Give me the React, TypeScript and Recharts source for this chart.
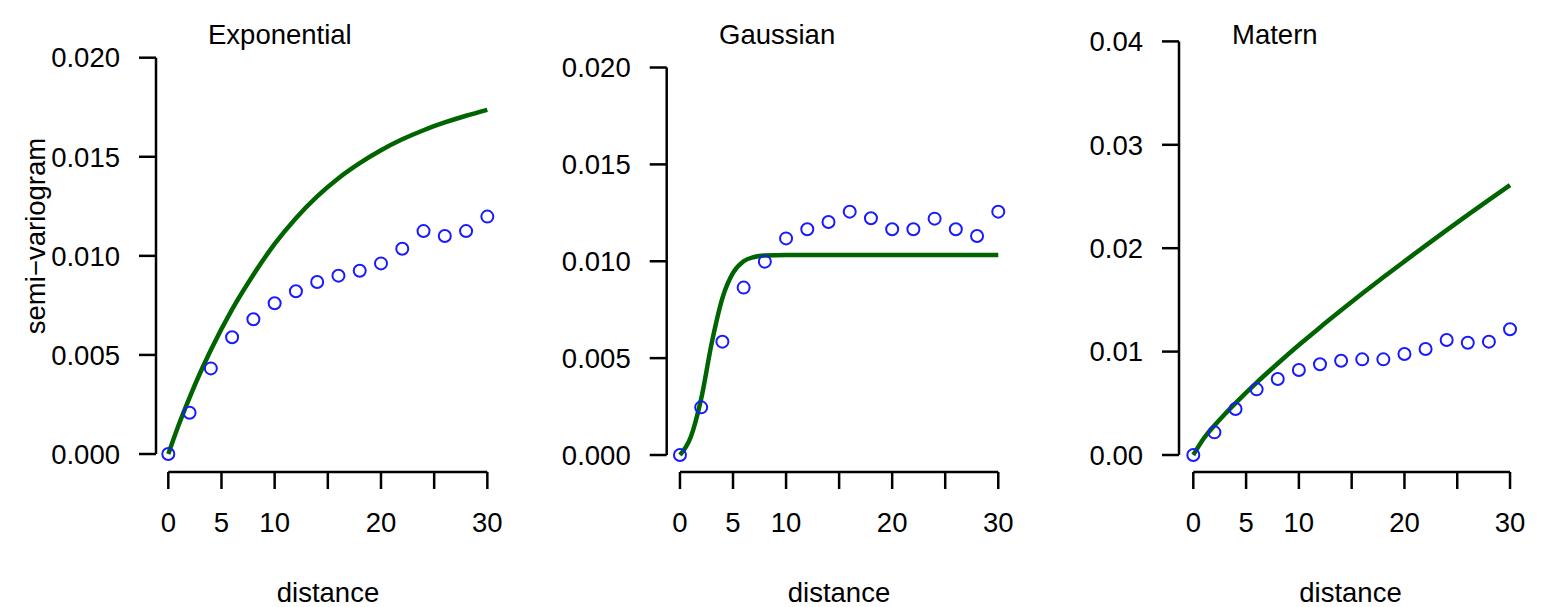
import React from "react";
import { ComposedChart, Line, Scatter, XAxis, YAxis, ReferenceLine } from "recharts";

// empirical semi-variogram, lags 0..30 by 2
const distances = [0, 2, 4, 6, 8, 10, 12, 14, 16, 18, 20, 22, 24, 26, 28, 30];
const expEmpirical = [0, 0.00208, 0.00432, 0.00589, 0.0068, 0.00761, 0.00821, 0.00868, 0.009, 0.00925, 0.00962, 0.01036, 0.01125, 0.011, 0.01125, 0.01198];
const gauEmpirical = [0, 0.00246, 0.00585, 0.00864, 0.00998, 0.01118, 0.01165, 0.01203, 0.01256, 0.01222, 0.01165, 0.01165, 0.0122, 0.01165, 0.0113, 0.01256];
const matEmpirical = [0, 0.00219, 0.00445, 0.00635, 0.00735, 0.00822, 0.00877, 0.00912, 0.00925, 0.00925, 0.00977, 0.01025, 0.01112, 0.01086, 0.01096, 0.01216];

// fitted model curves
const expFitDist = [0, 1, 2, 3, 4, 6, 8, 10, 12, 14, 16, 18, 20, 22, 24, 26, 28, 30];
const expFit = [0, 0.0015, 0.00285, 0.0041, 0.00525, 0.0073, 0.00905, 0.0106, 0.0119, 0.013, 0.01392, 0.01468, 0.01533, 0.01588, 0.01634, 0.01673, 0.01707, 0.01737];
const gauFitDist = [0, 1, 2, 3, 4, 5, 6, 7, 8, 10, 15, 20, 25, 30];
const gauFit = [0, 0.0009, 0.0029, 0.0058, 0.0081, 0.0094, 0.01, 0.01022, 0.0103, 0.01032, 0.01032, 0.01032, 0.01032, 0.01032];
const matFitDist = [0, 1, 2, 3, 4, 6, 8, 10, 12, 14, 16, 18, 20, 22, 24, 26, 28, 30];
const matFit = [0, 0.00162, 0.00285, 0.00397, 0.00502, 0.007, 0.00885, 0.01063, 0.01234, 0.01399, 0.01561, 0.01719, 0.01873, 0.02025, 0.02175, 0.02322, 0.02467, 0.0261];

const xTicks = [0, 5, 10, 15, 20, 25, 30];
const smallYTicks = [0, 0.005, 0.01, 0.015, 0.02];
const matYTicks = [0, 0.01, 0.02, 0.03, 0.04];

const FONT = '"Liberation Sans", Arial, Helvetica, sans-serif';
const FS = 27.5;
const AXIS_W = 2.5;

const toRows = (xs: number[], ys: number[]) => xs.map((h, i) => ({ h, v: ys[i] }));

const Ring = (props: any) => (
  <circle cx={props.cx} cy={props.cy} r={6} fill="none" stroke="#1a1aff" strokeWidth={2} />
);

type PanelProps = {
  left: number;
  points: { h: number; v: number }[];
  fit: { h: number; v: number }[];
  yTicks: number[];
  digits: number;
  xDomain: [number, number];
  yDomain: [number, number];
  margin: { top: number; right: number; bottom: number; left: number };
};

const Panel = ({ left, points, fit, yTicks, digits, xDomain, yDomain, margin }: PanelProps) => {
  const tickStyle = { fill: "#000", fontSize: FS, fontFamily: FONT };
  return (
    <div style={{ position: "absolute", left, top: 0, width: 520, height: 607 }}>
      <ComposedChart width={520} height={607} margin={margin}>
        <XAxis
          type="number"
          dataKey="h"
          domain={xDomain}
          allowDataOverflow
          ticks={xTicks}
          interval={0}
          tickFormatter={(v: number) => (v === 15 || v === 25 ? "" : String(v))}
          axisLine={false}
          tickLine={{ stroke: "#000", strokeWidth: AXIS_W }}
          tickSize={17}
          tickMargin={23}
          height={60}
          tick={tickStyle}
        />
        <YAxis
          type="number"
          dataKey="v"
          domain={yDomain}
          allowDataOverflow
          ticks={yTicks}
          interval={0}
          tickFormatter={(v: number) => v.toFixed(digits)}
          axisLine={false}
          tickLine={{ stroke: "#000", strokeWidth: AXIS_W }}
          tickSize={17}
          tickMargin={19}
          width={60}
          tick={tickStyle}
        />
        <ReferenceLine
          segment={[{ x: xDomain[0], y: 0 }, { x: xDomain[0], y: yTicks[yTicks.length - 1] }]}
          stroke="#000"
          strokeWidth={AXIS_W}
          ifOverflow="visible"
        />
        <ReferenceLine
          segment={[{ x: 0, y: yDomain[0] }, { x: 30, y: yDomain[0] }]}
          stroke="#000"
          strokeWidth={AXIS_W}
          ifOverflow="visible"
        />
        <Scatter data={points} shape={Ring} isAnimationActive={false} />
        <Line
          data={fit}
          dataKey="v"
          type="monotone"
          dot={false}
          stroke="#006400"
          strokeWidth={4.5}
          isAnimationActive={false}
        />
      </ComposedChart>
    </div>
  );
};

const App = () => (
  <div style={{ position: "absolute", left: 0, top: 0, width: 1560, height: 607, background: "#fff" }}>
    <Panel
      left={0}
      points={toRows(distances, expEmpirical)}
      fit={toRows(expFitDist, expFit)}
      yTicks={smallYTicks}
      digits={3}
      xDomain={[-1.157, 31.2]}
      yDomain={[-0.000908, 0.020893]}
      margin={{ top: 40, right: 19.9, bottom: 75, left: 96 }}
    />
    <Panel
      left={520}
      points={toRows(distances, gauEmpirical)}
      fit={toRows(gauFitDist, gauFit)}
      yTicks={smallYTicks}
      digits={3}
      xDomain={[-1.25, 31.2]}
      yDomain={[-0.000877, 0.02142]}
      margin={{ top: 40, right: 29, bottom: 75, left: 86.7 }}
    />
    <Panel
      left={1040}
      points={toRows(distances, matEmpirical)}
      fit={toRows(matFitDist, matFit)}
      yTicks={matYTicks}
      digits={2}
      xDomain={[-1.355, 31.2]}
      yDomain={[-0.001644, 0.040135]}
      margin={{ top: 40, right: 37.3, bottom: 75, left: 79 }}
    />
    <svg
      width={1560}
      height={607}
      style={{ position: "absolute", left: 0, top: 0, pointerEvents: "none" }}
      fontFamily={FONT}
      fontSize={FS}
      fill="#000"
    >
      <text x={208} y={43.5}>Exponential</text>
      <text x={719} y={43.5}>Gaussian</text>
      <text x={1232} y={43.5}>Matern</text>
      <text x={328} y={602} textAnchor="middle">distance</text>
      <text x={839} y={602} textAnchor="middle">distance</text>
      <text x={1350.5} y={602} textAnchor="middle">distance</text>
      <text transform="translate(45,236) rotate(-90)" textAnchor="middle">semi−variogram</text>
    </svg>
  </div>
);

export default App;
